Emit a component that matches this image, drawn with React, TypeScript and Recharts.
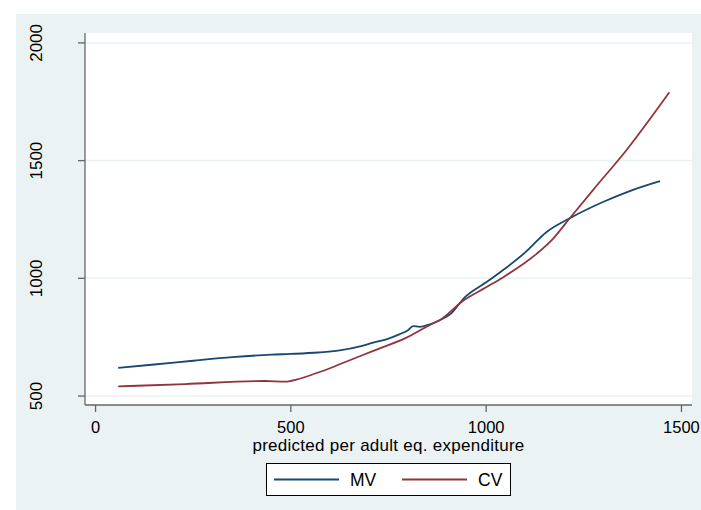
import React from 'react';
import { LineChart, Line, XAxis, YAxis, CartesianGrid, Legend } from 'recharts';

const mvX = [58, 150, 250, 350, 450, 500, 570, 625, 680, 711, 750, 779, 800, 813, 830, 856, 881, 910, 941, 1000, 1035, 1100, 1154, 1214, 1299, 1376, 1445];
const mvY = [620, 634, 650, 665, 676, 679, 685, 694, 712, 727, 744, 763, 780, 797, 794, 805, 822, 850, 912, 983, 1025, 1110, 1196, 1255, 1324, 1376, 1413];

const cvX = [58, 229, 434, 485, 502, 570, 600, 625, 711, 796, 856, 881, 941, 1000, 1043, 1129, 1171, 1214, 1274, 1359, 1469];
const cvY = [541, 551, 564, 561, 565, 600, 618, 635, 692, 748, 802, 822, 905, 962, 1004, 1104, 1168, 1255, 1376, 1544, 1790];

const xTicks = [0, 500, 1000, 1500];
const yTicks = [500, 1000, 1500, 2000];
const xTitle = 'predicted per adult eq. expenditure';
const seriesNames = ['MV', 'CV'];
const seriesColors = ['#1a476f', '#90353b'];

const mvData = mvX.map((x, i) => ({ x, y: mvY[i] }));
const cvData = cvX.map((x, i) => ({ x, y: cvY[i] }));

const FONT = '"Liberation Sans", Arial, Helvetica, sans-serif';
const BG = '#EAF2F3';
const AXIS = '#666666';

const YTick = (props: any) => {
  const { y, payload } = props;
  const bx = 42;
  return (
    <text x={bx} y={y} transform={`rotate(-90 ${bx} ${y})`} textAnchor="middle" fontSize={17} fontFamily={FONT} fill="#000">
      {payload.value}
    </text>
  );
};

const XTick = (props: any) => {
  const { x, payload } = props;
  return (
    <text x={x} y={432.5} textAnchor="middle" fontSize={16.5} fontFamily={FONT} fill="#000">
      {payload.value}
    </text>
  );
};

const XTitle = (props: any) => {
  const vb = props.viewBox || {};
  const cx = (vb.x ?? 85) + (vb.width ?? 607) / 2;
  return (
    <text x={cx} y={451} textAnchor="middle" fontSize={17} letterSpacing={0.27} fontFamily={FONT} fill="#000">
      {props.value}
    </text>
  );
};

const LegendBox = () => {
  const offsets = [8, 136];
  return (
    <svg width={246} height={34} style={{ display: 'block' }}>
      <rect x={0.5} y={0.5} width={244} height={32} fill="#fff" stroke="#000" strokeWidth={1} />
      {seriesNames.map((name, i) => (
        <g key={name}>
          <line x1={offsets[i]} x2={offsets[i] + 65} y1={16.5} y2={16.5} stroke={seriesColors[i]} strokeWidth={1.8} />
          <text x={offsets[i] + 76} y={23} fontSize={17.5} fontFamily={FONT} fill="#000">
            {name}
          </text>
        </g>
      ))}
    </svg>
  );
};

export default function App() {
  return (
    <div style={{ position: 'absolute', left: 0, top: 0, width: 701, height: 510, background: '#fff' }}>
      <div style={{ position: 'absolute', left: 16, top: 14, right: 0, bottom: 0, background: BG }} />
      <div style={{ position: 'absolute', left: 0, top: 0 }}>
        <LineChart width={701} height={510} margin={{ top: 33, right: 9, bottom: 75, left: 25 }}>
          <CartesianGrid horizontal={true} vertical={false} fill="#ffffff" stroke={BG} strokeWidth={1.5} horizontalValues={yTicks} />
          <XAxis
            type="number"
            dataKey="x"
            domain={[-27, 1527]}
            ticks={xTicks}
            allowDataOverflow
            height={30}
            tickSize={7}
            axisLine={{ stroke: AXIS, strokeWidth: 1.3 }}
            tickLine={{ stroke: AXIS, strokeWidth: 1.3 }}
            tick={<XTick />}
            label={{ value: xTitle, content: <XTitle /> }}
          />
          <YAxis
            type="number"
            domain={[462, 2042]}
            ticks={yTicks}
            allowDataOverflow
            width={60}
            tickSize={7}
            axisLine={{ stroke: AXIS, strokeWidth: 1.3 }}
            tickLine={{ stroke: AXIS, strokeWidth: 1.3 }}
            tick={<YTick />}
          />
          <Line data={mvData} dataKey="y" name={seriesNames[0]} type="monotone" stroke={seriesColors[0]} strokeWidth={1.8} dot={false} activeDot={false} isAnimationActive={false} />
          <Line data={cvData} dataKey="y" name={seriesNames[1]} type="monotone" stroke={seriesColors[1]} strokeWidth={1.8} dot={false} activeDot={false} isAnimationActive={false} />
          <Legend
            layout="vertical"
            align="center"
            verticalAlign="middle"
            width={246}
            height={34}
            wrapperStyle={{ left: 266, top: 463, width: 246, height: 34 }}
            content={<LegendBox />}
          />
        </LineChart>
      </div>
    </div>
  );
}
